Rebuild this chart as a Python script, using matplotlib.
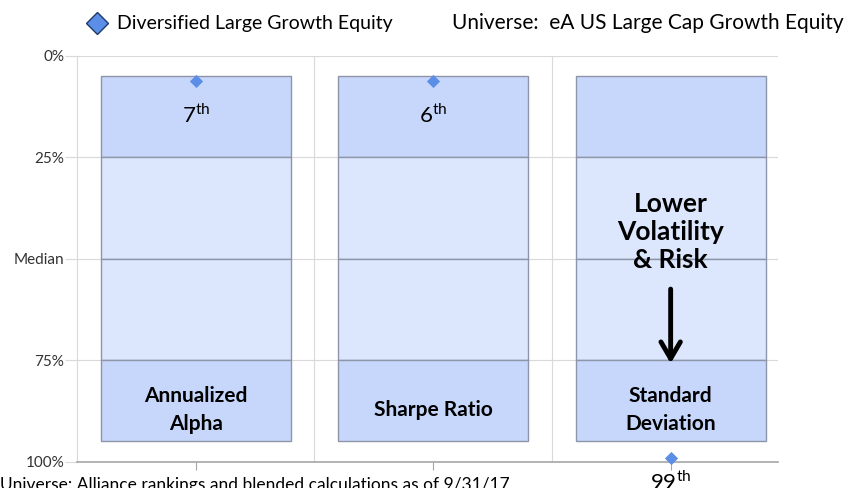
import numpy as np
import matplotlib
matplotlib.use("Agg")
import matplotlib.pyplot as plt
from matplotlib.lines import Line2D

plt.rcParams['font.family'] = ['Lato', 'DejaVu Sans']
plt.rcParams['mathtext.fontset'] = 'custom'
plt.rcParams['mathtext.rm'] = 'Lato'

# data
metrics = ["Annualized\nAlpha", "Sharpe Ratio", "Standard\nDeviation"]
ranks = [7, 6, 99]
marker_pos = [6.2, 6.2, 99]
band_edges = [5, 25, 50, 75, 95]
band_colors = ["#c6d7fb", "#dce6fd", "#dce6fd", "#c6d7fb"]
ytick_vals = [0, 25, 50, 75, 100]
ytick_labels = ["0%", "25%", "Median", "75%", "100%"]
series_name = "Diversified Large Growth Equity"
universe = "Universe:  eA US Large Cap Growth Equity"
footnote = "Universe: Alliance rankings and blended calculations as of 9/31/17"

fig = plt.figure(figsize=(8.65, 4.88), dpi=100)
ax = fig.add_axes([0.089, 0.054, 0.8104, 0.832])

x = np.arange(len(metrics))
for i in range(len(band_colors)):
    lo, hi = band_edges[i], band_edges[i + 1]
    ax.bar(x, hi - lo, bottom=lo, width=0.8, color=band_colors[i],
           edgecolor="#8e95a8", linewidth=1.0, zorder=2)

for v in ytick_vals[:-1]:
    ax.axhline(v, color="#d9d9d9", linewidth=0.8, zorder=1)
for s in [0.5, 1.5]:
    ax.axvline(s, color="#d9d9d9", linewidth=0.8, zorder=1)

ax.scatter(x, marker_pos, marker="D", s=45, color="#5b8ee6", zorder=4, clip_on=False,
           linewidths=0)

# rank labels
for i, r in enumerate(ranks):
    lab = r"%d$^{\mathrm{th}}$" % r
    if marker_pos[i] < 50:
        ax.text(i, marker_pos[i] + 8.5, lab, ha="center", va="center", fontsize=16, zorder=5)
    else:
        ax.text(i, marker_pos[i] + 6.0, lab, ha="center", va="center", fontsize=16, zorder=5,
                clip_on=False)

# metric labels
for i, m in enumerate(metrics):
    ax.text(i, 87.3, m, ha="center", va="center", fontsize=15, fontweight="bold",
            linespacing=1.45, zorder=5)

ax.text(2, 43.4, "Lower\nVolatility\n& Risk", ha="center", va="center", fontsize=19,
        fontweight="bold", linespacing=1.2, zorder=5)
ax.annotate("", xy=(2, 75.8), xytext=(2, 57.5),
            arrowprops=dict(arrowstyle="->,head_width=0.7,head_length=1.2", color="black",
                            lw=3.5, shrinkA=0, shrinkB=0), zorder=5)

ax.set_xlim(-0.5, 2.452)
ax.set_ylim(100, 0)
ax.set_yticks(ytick_vals)
ax.set_yticklabels(ytick_labels, fontsize=11, color="#333333")
ax.set_xticks(x)
ax.set_xticklabels([])
ax.tick_params(axis="y", length=9, color="#d9d9d9", pad=0)
ax.tick_params(axis="x", length=6, color="#a6a6a6", direction="out")
for sp in ["top", "right"]:
    ax.spines[sp].set_visible(False)
ax.spines["left"].set_color("#d9d9d9")
ax.spines["bottom"].set_color("#a6a6a6")
ax.spines["bottom"].set_linewidth(1.2)

# legend line
fig.lines.append(Line2D([97 / 865], [1 - 23 / 488], marker="D", markersize=11,
                        markerfacecolor="#5b8ee6", markeredgecolor="#1f3a6b",
                        markeredgewidth=1, transform=fig.transFigure))
fig.text(117 / 865, 1 - 23 / 488, series_name, ha="left", va="center", fontsize=14)
fig.text(452 / 865, 1 - 23 / 488, universe, ha="left", va="center", fontsize=15)

fig.text(0.0, 1 - 477 / 488, footnote, ha="left", va="top", fontsize=12.5)

fig.savefig("out.png", dpi=100)
